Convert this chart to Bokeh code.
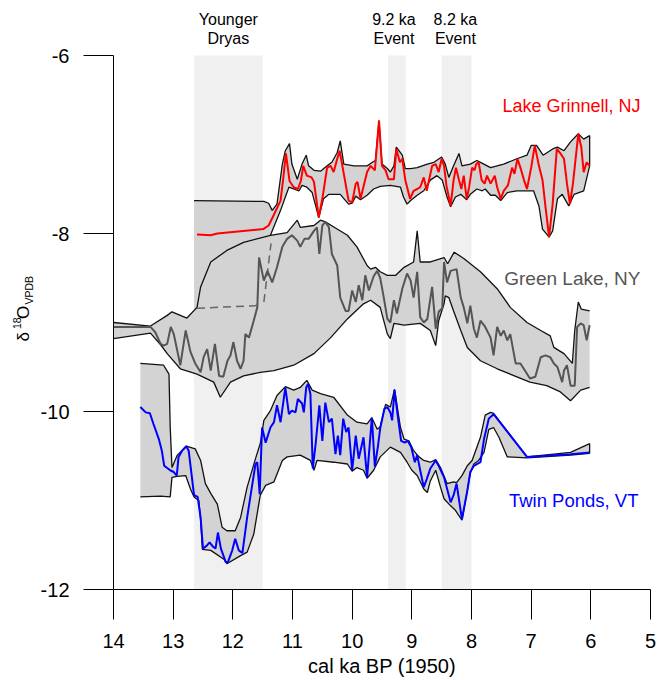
from bokeh.plotting import figure
from bokeh.models import Range1d, FixedTicker, Label
from bokeh.embed import file_html
from bokeh.resources import INLINE
import math

FONT = "Liberation Sans"

# ---------------- data ----------------
x_ticks = [14, 13, 12, 11, 10, 9, 8, 7, 6, 5]
y_ticks = [-12, -10, -8, -6]
y_tick_labels = ["-12", "-10", "-8", "-6"]

# event bands (cal ka BP)
band_left = [12.65, 9.40, 8.50]
band_right = [11.50, 9.10, 8.00]
band_names = [["Younger", "Dryas"], ["9.2 ka", "Event"], ["8.2 ka", "Event"]]
band_label_x = [12.075, 9.30, 8.27]

# Lake Grinnell, NJ
lg_x = [12.60, 12.37, 12.26, 11.49, 11.40, 11.32, 11.20, 11.16, 11.11, 11.05, 10.98, 10.91, 10.86, 10.82,
        10.76, 10.68, 10.64, 10.56, 10.50, 10.42, 10.36, 10.31, 10.25, 10.21, 10.14, 10.06, 10.00, 9.94,
        9.91, 9.86, 9.75, 9.69, 9.62, 9.55, 9.50, 9.44, 9.39, 9.30, 9.26, 9.20, 9.16, 9.11, 9.03, 8.97,
        8.91, 8.86, 8.80, 8.75, 8.66, 8.60, 8.55, 8.50, 8.46, 8.42, 8.35, 8.30, 8.26, 8.21, 8.17, 8.13,
        8.08, 8.04, 7.99, 7.95, 7.92, 7.88, 7.83, 7.78, 7.74, 7.68, 7.61, 7.57, 7.51, 7.46, 7.39, 7.32,
        7.28, 7.23, 7.18, 7.12, 7.07, 7.00, 6.94, 6.87, 6.81, 6.76, 6.70, 6.64, 6.57, 6.51, 6.45, 6.40,
        6.35, 6.30, 6.21, 6.16, 6.12, 6.07, 6.02]
lg_y = [-8.01, -8.02, -8.00, -7.95, -7.91, -7.80, -7.63, -7.41, -7.10, -7.41, -7.48, -7.50, -7.41, -7.24,
        -7.35, -7.37, -7.42, -7.82, -7.61, -7.26, -7.24, -7.31, -7.16, -7.07, -7.33, -7.63, -7.65, -7.44,
        -7.42, -7.61, -7.31, -7.24, -7.29, -6.73, -7.24, -7.29, -7.39, -7.39, -7.05, -7.20, -7.16, -7.40,
        -7.61, -7.52, -7.50, -7.48, -7.37, -7.52, -7.24, -7.22, -7.31, -7.16, -7.24, -7.46, -7.69, -7.40,
        -7.26, -7.40, -7.50, -7.35, -7.61, -7.48, -7.26, -7.29, -7.22, -7.20, -7.40, -7.44, -7.35, -7.44,
        -7.35, -7.48, -7.61, -7.52, -7.46, -7.26, -7.33, -7.16, -7.26, -7.40, -7.50, -7.26, -7.01, -7.24,
        -7.40, -7.70, -8.04, -7.67, -7.05, -7.10, -7.16, -7.44, -7.67, -7.44, -6.88, -7.03, -7.31, -7.20,
        -7.24]
lg_up_x = [12.65, 11.48, 11.40, 11.34, 11.26, 11.17, 11.12, 11.05, 11.01, 10.92, 10.84, 10.77, 10.73, 10.64,
           10.53, 10.42, 10.34, 10.25, 10.20, 10.14, 9.97, 9.75, 9.66, 9.61, 9.55, 9.50, 9.41, 9.36, 9.30,
           9.26, 9.16, 9.11, 9.02, 8.91, 8.74, 8.63, 8.50, 8.44, 8.38, 8.30, 8.21, 8.16, 8.02, 7.91, 7.85,
           7.68, 7.46, 7.24, 7.07, 7.00, 6.91, 6.80, 6.64, 6.56, 6.45, 6.34, 6.21, 6.12, 6.02]
lg_up_y = [-7.63, -7.64, -7.66, -7.74, -7.67, -7.22, -7.07, -6.99, -7.22, -7.39, -7.22, -7.12, -7.24, -7.29,
           -7.30, -7.24, -7.20, -7.09, -6.96, -7.22, -7.24, -7.24, -7.20, -7.18, -6.73, -7.22, -7.27, -7.31,
           -7.24, -7.03, -7.12, -7.27, -7.27, -7.26, -7.22, -7.20, -7.14, -7.22, -7.37, -7.24, -7.10, -7.24,
           -7.22, -7.18, -7.20, -7.26, -7.22, -7.16, -7.12, -7.01, -7.01, -7.12, -7.05, -7.03, -7.07, -6.97,
           -6.88, -6.94, -6.90]
# first two points lie hidden under the Green Lake envelope
lg_lo_x = [12.65, 11.42, 11.37, 11.20, 11.12, 11.06, 10.89, 10.84, 10.76, 10.67, 10.56, 10.48, 10.39, 10.20,
           10.06, 10.00, 9.94, 9.86, 9.75, 9.64, 9.53, 9.36, 9.19, 9.14, 9.08, 9.02, 8.91, 8.80, 8.69, 8.58,
           8.49, 8.41, 8.35, 8.27, 8.18, 8.08, 8.02, 7.91, 7.82, 7.77, 7.68, 7.60, 7.51, 7.40, 7.24, 7.07,
           6.96, 6.87, 6.81, 6.70, 6.64, 6.56, 6.48, 6.37, 6.28, 6.12, 6.02]
lg_lo_y = [-8.85, -8.85, -8.02, -7.74, -7.59, -7.48, -7.52, -7.46, -7.48, -7.54, -7.82, -7.61, -7.56, -7.56,
           -7.67, -7.66, -7.58, -7.62, -7.57, -7.50, -7.47, -7.46, -7.48, -7.59, -7.67, -7.63, -7.57, -7.52,
           -7.40, -7.35, -7.40, -7.59, -7.70, -7.59, -7.56, -7.62, -7.56, -7.50, -7.52, -7.50, -7.57, -7.57,
           -7.63, -7.54, -7.52, -7.52, -7.52, -7.69, -7.95, -8.04, -7.97, -7.61, -7.56, -7.69, -7.56, -7.52,
           -7.24]

# Green Lake, NY
gl_x = [14.00, 13.38, 13.30, 13.21, 13.16, 13.10, 13.04, 12.99, 12.88, 12.79, 12.71, 12.63, 12.54, 12.49,
        12.43, 12.37, 12.30, 12.23, 12.16, 12.09, 12.04, 11.99, 11.93, 11.87, 11.82, 11.79, 11.73, 11.65,
        11.59, 11.56, 11.48, 11.42, 11.34, 11.26, 11.17, 11.09, 11.01, 10.92, 10.87, 10.80, 10.73, 10.64,
        10.59, 10.55, 10.50, 10.45, 10.39, 10.34, 10.25, 10.20, 10.11, 10.06, 10.00, 9.94, 9.89, 9.83,
        9.78, 9.72, 9.64, 9.58, 9.53, 9.47, 9.41, 9.36, 9.30, 9.25, 9.16, 9.08, 9.02, 8.97, 8.91, 8.86,
        8.80, 8.74, 8.66, 8.60, 8.55, 8.49, 8.46, 8.41, 8.35, 8.25, 8.18, 8.13, 8.07, 8.02, 7.96, 7.91,
        7.85, 7.77, 7.68, 7.63, 7.57, 7.51, 7.46, 7.40, 7.35, 7.26, 7.18, 7.02, 6.93, 6.84, 6.76, 6.68,
        6.62, 6.56, 6.48, 6.45, 6.40, 6.34, 6.27, 6.23, 6.17, 6.12, 6.07, 6.02]
gl_y = [-9.05, -9.05, -9.11, -9.24, -9.26, -9.24, -9.05, -9.13, -9.48, -9.09, -9.33, -9.46, -9.56, -9.39,
        -9.30, -9.54, -9.24, -9.60, -9.61, -9.43, -9.37, -9.22, -9.43, -9.52, -9.43, -9.13, -9.17, -8.98,
        -8.83, -8.27, -8.53, -8.42, -8.55, -8.38, -8.15, -8.06, -8.02, -8.08, -8.15, -8.06, -8.06, -7.97,
        -7.93, -8.23, -7.91, -7.87, -7.93, -8.23, -8.36, -8.72, -8.87, -8.87, -8.64, -8.77, -8.58, -8.75,
        -8.47, -8.64, -8.48, -8.42, -8.50, -8.72, -8.96, -9.00, -8.75, -8.90, -8.62, -8.45, -8.53, -8.72,
        -8.43, -8.94, -9.00, -8.96, -8.60, -9.07, -8.88, -8.84, -8.32, -8.55, -8.42, -8.40, -8.72, -8.83,
        -9.01, -8.81, -9.07, -9.17, -8.98, -9.05, -9.17, -9.37, -9.05, -9.15, -9.09, -9.20, -9.13, -9.46,
        -9.46, -9.63, -9.61, -9.39, -9.37, -9.39, -9.46, -9.50, -9.67, -9.54, -9.48, -9.71, -9.71, -9.05,
        -9.01, -9.03, -9.20, -9.03]
gl_up_x = [14.00, 13.38, 13.10, 13.02, 12.77, 12.60, 12.54, 12.37, 12.10, 11.82, 11.37, 11.09, 10.92, 10.87,
           10.64, 10.53, 10.45, 10.30, 10.08, 9.92, 9.75, 9.69, 9.61, 9.53, 9.41, 9.27, 9.13, 8.97, 8.91,
           8.86, 8.69, 8.46, 8.40, 8.29, 8.13, 7.85, 7.57, 7.35, 7.07, 6.84, 6.68, 6.62, 6.45, 6.31, 6.27,
           6.21, 6.16, 6.02]
gl_up_y = [-9.00, -9.04, -8.92, -8.88, -8.95, -8.83, -8.60, -8.32, -8.19, -8.10, -8.02, -7.99, -7.85, -7.93,
           -7.91, -7.85, -7.87, -7.93, -8.02, -8.15, -8.36, -8.40, -8.38, -8.43, -8.47, -8.47, -8.38, -8.32,
           -7.97, -8.32, -8.32, -8.27, -8.34, -8.21, -8.28, -8.43, -8.62, -8.83, -9.00, -9.09, -9.15, -9.28,
           -9.35, -9.46, -9.09, -8.77, -8.85, -8.87]
gl_lo_x = [14.00, 13.38, 13.21, 13.10, 12.88, 12.60, 12.32, 12.21, 12.04, 11.82, 11.54, 11.31, 10.98, 10.64,
           10.36, 10.08, 9.81, 9.69, 9.53, 9.41, 9.36, 9.30, 9.13, 8.86, 8.69, 8.60, 8.55, 8.46, 8.44, 8.38,
           8.30, 8.18, 8.07, 7.85, 7.57, 7.24, 7.02, 6.74, 6.51, 6.34, 6.17, 6.02]
gl_lo_y = [-9.18, -9.12, -9.25, -9.35, -9.52, -9.58, -9.67, -9.84, -9.67, -9.60, -9.56, -9.54, -9.48, -9.35,
           -9.17, -8.96, -8.79, -8.75, -8.83, -9.13, -9.18, -9.01, -9.03, -9.01, -9.09, -9.26, -8.98, -8.79,
           -8.70, -8.72, -8.87, -9.09, -9.28, -9.43, -9.52, -9.61, -9.67, -9.71, -9.78, -9.88, -9.76, -9.73]
gl_dash1_x = [12.60, 11.59]
gl_dash1_y = [-8.84, -8.81]
gl_dash2_x = [11.48, 11.36]
gl_dash2_y = [-8.77, -8.11]

# Twin Ponds, VT
tp_x = [13.55, 13.46, 13.39, 13.33, 13.24, 13.19, 13.15, 13.05, 12.99, 12.94, 12.91, 12.85, 12.78, 12.74,
        12.65, 12.59, 12.54, 12.50, 12.44, 12.39, 12.33, 12.29, 12.25, 12.20, 12.12, 12.08, 12.01, 11.96,
        11.90, 11.84, 11.76, 11.69, 11.62, 11.59, 11.55, 11.51, 11.45, 11.37, 11.31, 11.26, 11.20, 11.12,
        11.06, 11.01, 10.95, 10.91, 10.84, 10.81, 10.77, 10.74, 10.70, 10.66, 10.61, 10.55, 10.50, 10.45,
        10.39, 10.34, 10.28, 10.24, 10.20, 10.15, 10.10, 10.06, 10.00, 9.94, 9.89, 9.81, 9.75, 9.67, 9.62,
        9.57, 9.53, 9.46, 9.41, 9.36, 9.33, 9.29, 9.24, 9.18, 9.12, 9.07, 9.01, 8.95, 8.91, 8.86, 8.80,
        8.75, 8.69, 8.60, 8.55, 8.46, 8.35, 8.30, 8.25, 8.16, 8.07, 8.02, 7.96, 7.85, 7.79, 7.71, 7.63,
        7.07, 6.34, 6.02]
tp_y = [-9.95, -10.01, -10.02, -10.14, -10.31, -10.44, -10.61, -10.66, -10.68, -10.72, -10.51, -10.44,
        -10.39, -10.44, -10.94, -10.96, -11.19, -11.54, -11.51, -11.47, -11.52, -11.54, -11.36, -11.54,
        -11.69, -11.69, -11.56, -11.43, -11.56, -11.59, -11.19, -10.89, -10.59, -10.57, -10.93, -10.18,
        -10.35, -10.18, -10.12, -9.93, -10.12, -9.73, -10.03, -9.99, -10.01, -9.86, -9.91, -10.01, -9.73,
        -9.69, -9.80, -10.64, -10.35, -9.93, -10.33, -9.90, -10.12, -10.08, -10.48, -10.27, -10.49, -10.08,
        -10.23, -10.18, -10.66, -10.27, -10.53, -10.29, -10.74, -10.07, -10.62, -10.40, -10.19, -9.97,
        -9.95, -10.01, -10.10, -9.76, -10.03, -10.33, -10.35, -10.33, -10.40, -10.57, -10.49, -10.66,
        -10.85, -10.76, -10.64, -10.55, -10.61, -10.74, -11.02, -10.94, -10.81, -11.21, -10.89, -10.68,
        -10.61, -10.57, -10.31, -10.08, -10.03, -10.51, -10.48, -10.46]
tp_up_x = [13.55, 13.16, 13.07, 13.05, 13.02, 12.93, 12.78, 12.63, 12.54, 12.46, 12.37, 12.26, 12.18, 12.10,
           11.96, 11.87, 11.76, 11.62, 11.54, 11.48, 11.37, 11.26, 11.12, 10.98, 10.87, 10.76, 10.67, 10.53,
           10.31, 10.08, 9.92, 9.75, 9.67, 9.58, 9.53, 9.44, 9.36, 9.29, 9.19, 9.13, 9.05, 8.97, 8.88, 8.80,
           8.69, 8.60, 8.52, 8.41, 8.30, 8.25, 8.16, 8.07, 7.99, 7.85, 7.77, 7.68, 7.63, 7.07, 6.34, 6.02]
tp_up_y = [-9.46, -9.48, -9.58, -10.17, -10.63, -10.49, -10.39, -10.42, -10.55, -10.81, -10.92, -11.04,
           -11.30, -11.34, -11.34, -11.19, -10.85, -10.53, -10.36, -10.10, -9.99, -9.82, -9.72, -9.76, -9.73,
           -9.65, -9.76, -9.80, -9.84, -10.04, -10.12, -10.14, -10.07, -10.20, -10.17, -9.92, -9.95, -9.75,
           -10.18, -10.31, -10.33, -10.44, -10.51, -10.55, -10.57, -10.54, -10.63, -10.81, -10.79, -10.80,
           -10.72, -10.61, -10.55, -10.29, -10.04, -10.01, -10.02, -10.51, -10.46, -10.36]
tp_lo_x = [13.55, 13.21, 13.05, 13.02, 12.93, 12.79, 12.71, 12.65, 12.57, 12.54, 12.51, 12.37, 12.15, 12.10,
           11.87, 11.76, 11.65, 11.54, 11.45, 11.31, 11.17, 11.09, 10.87, 10.70, 10.64, 10.59, 10.31, 10.08,
           10.00, 9.92, 9.81, 9.75, 9.64, 9.53, 9.36, 9.19, 9.08, 9.00, 8.91, 8.80, 8.74, 8.69, 8.60, 8.52,
           8.46, 8.35, 8.27, 8.16, 8.10, 8.02, 7.96, 7.88, 7.79, 7.71, 7.63, 7.54, 7.40, 7.07, 6.34, 6.02]
tp_lo_y = [-10.96, -10.95, -10.96, -10.74, -10.73, -10.72, -10.87, -10.96, -11.00, -11.22, -11.55, -11.56,
           -11.66, -11.71, -11.62, -11.58, -11.38, -10.94, -10.83, -10.79, -10.55, -10.51, -10.49, -10.55,
           -10.66, -10.55, -10.57, -10.59, -10.67, -10.63, -10.66, -10.75, -10.66, -10.51, -10.40, -10.46,
           -10.57, -10.66, -10.72, -10.87, -10.91, -10.78, -10.66, -10.85, -10.98, -11.06, -11.11, -11.22,
           -11.00, -10.69, -10.59, -10.55, -10.46, -10.20, -10.18, -10.29, -10.51, -10.52, -10.49, -10.47]

series_names = ["Lake Grinnell, NJ", "Green Lake, NY", "Twin Ponds, VT"]
series_colors = ["#ff0000", "#555555", "#0000ff"]

# ---------------- geometry ----------------
W, H = 662, 680
BOX_L, BOX_R, BOX_T, BOX_B = 113, 650, 55, 589      # pixel box of the 14..5 / -12..-6 data area
X0, X1, Y0, Y1 = 14, 5, -12, -6
KX = (BOX_R - BOX_L) / (X0 - X1)                      # px per ka
KY = (BOX_B - BOX_T) / (Y1 - Y0)                      # px per permil


def px(sx, sy):
    """screen pixel -> data coordinates (text placement only)"""
    return X0 - (sx - BOX_L) / KX, Y1 - (sy - BOX_T) / KY


xr = Range1d(X0 + BOX_L / KX, X1 - (W - BOX_R) / KX)
yr = Range1d(Y0 - (H - BOX_B) / KY, Y1 + BOX_T / KY)

p = figure(width=W, height=H, x_range=xr, y_range=yr, title=None,
           output_backend="svg", toolbar_location=None, min_border=0)
p.outline_line_color = None
p.xgrid.visible = False
p.ygrid.visible = False
p.background_fill_color = "white"
p.border_fill_color = "white"

# bands
p.quad(left=band_left, right=band_right, bottom=[Y0] * 3, top=[Y1] * 3,
       fill_color="#f0f0f0", line_color=None)

FILL = "#d3d3d3"
p.patch(lg_up_x + lg_lo_x[::-1], lg_up_y + lg_lo_y[::-1], fill_color=FILL, line_color=None)
p.patch(gl_up_x + gl_lo_x[::-1], gl_up_y + gl_lo_y[::-1], fill_color=FILL, line_color=None)
p.patch(tp_up_x + tp_lo_x[::-1], tp_up_y + tp_lo_y[::-1], fill_color=FILL, line_color=None)

OL = dict(line_color="#111111", line_width=1.3)
p.line(lg_up_x, lg_up_y, **OL)
p.line(lg_lo_x[2:], lg_lo_y[2:], **OL)
p.line([lg_up_x[-1], lg_lo_x[-1]], [lg_up_y[-1], lg_lo_y[-1]], **OL)
p.line(gl_up_x, gl_up_y, **OL)
p.line(gl_lo_x, gl_lo_y, **OL)
p.line(tp_up_x, tp_up_y, **OL)
p.line(tp_lo_x, tp_lo_y, **OL)
p.line([tp_up_x[-1], tp_lo_x[-1]], [tp_up_y[-1], tp_lo_y[-1]], **OL)

p.line(gl_dash1_x, gl_dash1_y, line_color="#666666", line_width=1.5, line_dash="8 5")
p.line(gl_dash2_x, gl_dash2_y, line_color="#666666", line_width=1.5, line_dash="8 5")

p.line(gl_x, gl_y, line_color=series_colors[1], line_width=2)
p.line(lg_x, lg_y, line_color=series_colors[0], line_width=2)
p.line(tp_x, tp_y, line_color=series_colors[2], line_width=2)

# ---------------- axes (fixed inside the canvas-sized frame) ----------------
p.xaxis.fixed_location = Y0
p.xaxis.bounds = (X1, X0)
p.yaxis.fixed_location = X0
p.yaxis.bounds = (Y0, Y1)
p.xaxis.ticker = FixedTicker(ticks=x_ticks)
p.yaxis.ticker = FixedTicker(ticks=y_ticks)
p.yaxis.major_label_overrides = {v: s for v, s in zip(y_ticks, y_tick_labels)}
for ax in (p.xaxis[0], p.yaxis[0]):
    ax.axis_line_color = "black"
    ax.axis_line_width = 1
    ax.major_tick_line_color = "black"
    ax.major_tick_line_width = 1
    ax.major_tick_in = 0
    ax.major_tick_out = 30
    ax.minor_tick_line_color = None
    ax.major_label_text_font = FONT
    ax.major_label_text_font_size = "20px"
    ax.major_label_text_color = "black"
p.xaxis.major_label_standoff = 14
p.yaxis.major_label_standoff = 14
p.xaxis.axis_label = "cal ka BP (1950)"
p.xaxis.axis_label_text_font = FONT
p.xaxis.axis_label_text_font_size = "20px"
p.xaxis.axis_label_text_font_style = "normal"
p.xaxis.axis_label_text_color = "black"
p.xaxis.axis_label_standoff = 4

# y-axis label: δ, superscript 18, O, subscript VPDB (rotated)
ylab_parts = [("δ", 22.5, 341, "17px"), ("18", 16, 328.5, "10.5px"),
              ("O", 22.5, 318.5, "17px"), ("VPDB", 28, 304, "10.5px")]
for txt, sx, sy, fs in ylab_parts:
    dx, dy = px(sx, sy)
    p.add_layout(Label(x=dx, y=dy, text=txt, angle=math.pi / 2, text_font=FONT,
                       text_font_size=fs, text_align="left", text_baseline="middle",
                       text_color="black"))

# event labels above the data box
for bx, names in zip(band_label_x, band_names):
    for i, nm in enumerate(names):
        _, dy = px(0, 18.5 + 19 * i)
        p.add_layout(Label(x=bx, y=dy, text=nm, text_font=FONT, text_font_size="16px",
                           text_align="center", text_baseline="middle", text_color="black"))

# series labels
series_label_px = [(640, 105, "18px"), (640, 277.5, "19px"), (638, 500, "18.5px")]
for nm, col, (sx, sy, fs) in zip(series_names, series_colors, series_label_px):
    dx, dy = px(sx, sy)
    p.add_layout(Label(x=dx, y=dy, text=nm, text_font=FONT, text_font_size=fs,
                       text_align="right", text_baseline="middle", text_color=col))

open("out.html", "w").write(file_html(p, INLINE))
